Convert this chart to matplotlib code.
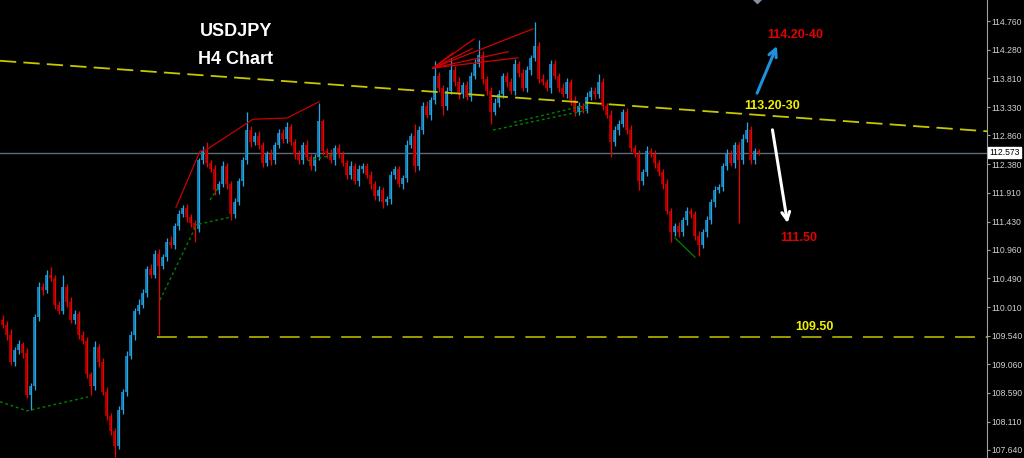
import numpy as np
import matplotlib
matplotlib.use("Agg")
import matplotlib.pyplot as plt
import matplotlib.transforms as mtransforms

# USDJPY H4 closes, one per bar (open = previous close)
first_open = 109.80
close = [
    109.72, 109.55, 109.10, 109.30, 109.40, 109.25, 108.55, 108.70, 109.85, 110.35,
    110.30, 110.55, 110.50, 110.05, 109.95, 110.35, 110.10, 109.80, 109.90, 109.55,
    109.45, 108.90, 108.70, 109.35, 109.10, 108.60, 108.20, 107.95, 107.70, 108.30,
    108.60, 109.20, 109.55, 109.95, 110.05, 110.25, 110.65, 110.55, 110.90, 110.70,
    110.85, 111.10, 111.05, 111.35, 111.55, 111.65, 111.50, 111.40, 111.30, 112.45,
    112.60, 112.40, 112.30, 111.95, 112.05, 112.35, 112.05, 111.55, 111.75, 112.10,
    112.45, 112.95, 112.75, 112.85, 112.70, 112.40, 112.55, 112.45, 112.70, 112.90,
    112.80, 113.00, 112.75, 112.55, 112.45, 112.70, 112.50, 112.35, 112.50, 113.10,
    112.60, 112.55, 112.45, 112.65, 112.55, 112.40, 112.20, 112.35, 112.10, 112.30,
    112.35, 112.20, 112.05, 111.85, 111.95, 111.75, 111.80, 112.20, 112.30, 112.05,
    112.15, 112.70, 112.85, 112.35, 112.95, 113.35, 113.20, 113.45, 113.85, 113.65,
    113.35, 113.60, 113.95, 113.75, 113.55, 113.70, 113.50, 113.85, 114.05, 114.20,
    113.80, 113.60, 113.25, 113.40, 113.55, 113.85, 113.75, 113.60, 114.05, 113.90,
    113.65, 113.95, 114.15, 114.35, 113.80, 113.75, 113.65, 114.05, 113.85, 113.65,
    113.55, 113.75, 113.45, 113.25, 113.35, 113.30, 113.50, 113.60, 113.55, 113.75,
    113.35, 113.20, 112.75, 112.95, 113.05, 113.25, 112.95, 112.65, 112.55, 112.10,
    112.25, 112.60, 112.55, 112.40, 112.25, 112.05, 111.60, 111.25, 111.35, 111.25,
    111.45, 111.60, 111.55, 111.20, 111.05, 111.25, 111.45, 111.75, 111.95, 112.00,
    112.35, 112.55, 112.40, 112.70, 112.45, 112.80, 112.95, 112.45, 112.60, 112.573,
]
# wick lengths beyond the body, in pips (0.01)
wick_up = [
    8, 6, 10, 5, 7, 4, 9, 6, 5, 8,
    6, 7, 13, 5, 6, 20, 4, 8, 6, 5,
    7, 6, 4, 10, 5, 6, 8, 5, 6, 7,
    5, 8, 6, 4, 9, 6, 5, 7, 6, 8,
    5, 6, 9, 5, 7, 6, 8, 5, 6, 4,
    8, 15, 6, 7, 5, 8, 6, 5, 7, 6,
    5, 30, 6, 7, 8, 5, 6, 9, 5, 7,
    6, 8, 5, 6, 7, 5, 8, 6, 5, 30,
    4, 6, 8, 5, 7, 6, 5, 8, 6, 7,
    5, 6, 7, 5, 8, 6, 5, 7, 6, 5,
    6, 8, 5, 20, 7, 6, 8, 5, 25, 6,
    5, 7, 20, 6, 8, 5, 7, 6, 8, 25,
    6, 5, 7, 8, 6, 5, 7, 6, 8, 5,
    6, 7, 5, 39, 6, 8, 5, 7, 6, 5,
    8, 6, 5, 7, 6, 5, 8, 6, 7, 13,
    6, 5, 8, 6, 7, 5, 6, 8, 5, 7,
    6, 8, 5, 7, 6, 5, 8, 6, 5, 7,
    6, 8, 5, 6, 7, 5, 8, 6, 7, 5,
    6, 8, 7, 5, 6, 8, 13, 6, 5, 4,
]
wick_dn = [
    6, 8, 5, 7, 6, 9, 5, 25, 6, 7,
    8, 5, 6, 7, 5, 6, 8, 5, 7, 6,
    5, 7, 15, 6, 8, 5, 7, 6, 18, 5,
    6, 7, 5, 8, 6, 5, 7, 6, 5, 115,
    6, 8, 5, 7, 6, 5, 8, 6, 20, 5,
    6, 7, 5, 8, 6, 5, 7, 10, 6, 5,
    7, 6, 8, 5, 6, 7, 5, 8, 6, 5,
    7, 6, 5, 8, 6, 7, 5, 6, 8, 5,
    7, 6, 5, 8, 6, 5, 7, 6, 5, 8,
    6, 5, 7, 6, 8, 10, 5, 7, 6, 5,
    8, 6, 5, 10, 7, 6, 5, 8, 6, 7,
    15, 6, 5, 7, 8, 6, 5, 7, 6, 5,
    8, 6, 20, 5, 7, 6, 8, 5, 6, 7,
    5, 6, 8, 5, 7, 6, 5, 8, 6, 7,
    5, 6, 8, 7, 5, 6, 7, 5, 8, 6,
    7, 5, 25, 6, 8, 5, 7, 6, 5, 15,
    6, 7, 5, 8, 6, 7, 5, 15, 6, 8,
    5, 7, 6, 8, 19, 5, 7, 6, 8, 5,
    6, 7, 5, 8, 105, 6, 5, 7, 6, 4,
]

price_ticks = [114.760, 114.280, 113.810, 113.330, 112.860, 112.380, 111.910, 111.430,
               110.960, 110.490, 110.010, 109.540, 109.060, 108.590, 108.110, 107.640]
last_price = 112.573

# drawn objects (bar index, price)
trend_x = [-0.5, 246.25]
trend_y = [114.10, 112.93]
support_x = [38.75, 246.25]
support_y = [109.51, 109.51]
zig_x = [43.5, 49.5, 51, 62.75, 71.25, 79.25]
zig_y = [111.67, 112.60, 112.62, 113.13, 113.15, 113.42]
fan_origin = (107.75, 113.98)
fan_x = [112.75, 118, 117.5, 132.75, 126.5, 129]
fan_y = [114.23, 114.46, 114.30, 114.63, 114.25, 114.15]
green_lines = [
    ([-0.5, 6.25, 21.5], [108.44, 108.29, 108.52]),
    ([39.5, 48.75], [110.13, 111.39]),
    ([49.25, 57.5], [111.39, 111.51]),
    ([52, 54], [111.79, 111.99]),
    ([76.5, 82.75], [112.44, 112.54]),
    ([122.75, 146.25], [112.95, 113.28]),
    ([128, 147], [113.08, 113.38]),
]
green_solid = ([168.25, 173.25], [111.16, 110.84])

close = np.array(close)
opens = np.r_[first_open, close[:-1]]
hi = np.maximum(opens, close) + np.array(wick_up) / 100
lo = np.minimum(opens, close) - np.array(wick_dn) / 100
idx = np.arange(len(close))
up = close >= opens
dn = ~up

fig = plt.figure(figsize=(10.24, 4.58), dpi=100, facecolor="black")
ax = fig.add_axes([0, 0, 987 / 1024, 1])
ax.set_facecolor("black")
ax.set_xlim(-0.5, 246.25)
ax.set_ylim(107.507, 115.109)

# candles: darker body, bright wick
body_h = np.maximum(np.abs(close - opens), 0.012)
body_b = np.minimum(opens, close)
ax.bar(idx[up], body_h[up], bottom=body_b[up], width=0.62, color="#1a78a8", linewidth=0, zorder=3)
ax.bar(idx[dn], body_h[dn], bottom=body_b[dn], width=0.62, color="#a00000", linewidth=0, zorder=3)
ax.vlines(idx[up] + 0.15, lo[up], hi[up], color="#22a8e8", lw=0.9, zorder=4)
ax.vlines(idx[dn] + 0.15, lo[dn], hi[dn], color="#ee0000", lw=0.9, zorder=4)

# lines
ax.axhline(last_price, color="#5c6c7a", lw=1, zorder=2)
ax.plot(trend_x, trend_y, color="#c8c800", lw=1.3, ls=(0, (9, 4)), zorder=5)
ax.plot(support_x, support_y, color="#a8a800", lw=1.3, ls=(0, (11, 6)), zorder=5)
ax.plot(zig_x, zig_y, color="#c80000", lw=0.9, zorder=6)
for fx, fy in zip(fan_x, fan_y):
    ax.plot([fan_origin[0], fx], [fan_origin[1], fy], color="#d40000", lw=0.9, zorder=6)
for gx, gy in green_lines:
    ax.plot(gx, gy, color="#008000", lw=1.0, ls=(0, (2, 2)), zorder=6)
ax.plot(*green_solid, color="#008000", lw=0.9, zorder=6)

# annotations
ax.annotate("", xy=(194, 114.39), xytext=(188.5, 113.52),
            arrowprops=dict(arrowstyle="->", color="#1e90dc", lw=2.2, mutation_scale=14), zorder=7)
ax.annotate("", xy=(196.5, 111.36), xytext=(192.5, 113.00),
            arrowprops=dict(arrowstyle="->", color="white", lw=2.2, mutation_scale=14), zorder=7)
lbl = dict(fontfamily="Liberation Sans", fontweight="bold", fontsize=9, ha="center", va="center", zorder=8)
ax.text(198.25, 114.53, "114.20-40", color="#e00000", **lbl)
ax.text(192.5, 113.35, "113.20-30", color="#f0f000", **lbl)
ax.text(199.25, 111.16, "111.50", color="#e00000", **lbl)
ax.text(203, 109.68, "109.50", color="#f0f000", **lbl)
ax.plot([188.75], [115.14], marker="D", color="#8890a0", ms=5, zorder=8)

fig.text(236 / 1024, 1 - 32 / 458, "USDJPY", color="white", fontfamily="Liberation Sans",
         fontweight="bold", fontsize=13, ha="center", va="center")
fig.text(236 / 1024, 1 - 59 / 458, "H4 Chart", color="white", fontfamily="Liberation Sans",
         fontweight="bold", fontsize=13, ha="center", va="center")

# price axis
for s in ["top", "left", "bottom"]:
    ax.spines[s].set_visible(False)
ax.spines["right"].set_color("#a0a0a0")
ax.set_xticks([])
ax.yaxis.tick_right()
ax.set_yticks(price_ticks)
ax.set_yticklabels([f"{v:.3f}" for v in price_ticks], fontfamily="Liberation Sans")
ax.tick_params(axis="y", colors="#a0a0a0", labelcolor="#d0d0d0", labelsize=6.2, length=2, pad=1.5)
trans = mtransforms.blended_transform_factory(ax.transAxes, ax.transData)
ax.text(1.0025, last_price, f"{last_price:.3f}", transform=trans, color="black", fontsize=6.2,
        fontfamily="Liberation Sans", va="center", ha="left", clip_on=False,
        bbox=dict(boxstyle="square,pad=0.12", fc="white", ec="white"))

fig.savefig("out.png", dpi=100, facecolor="black")
